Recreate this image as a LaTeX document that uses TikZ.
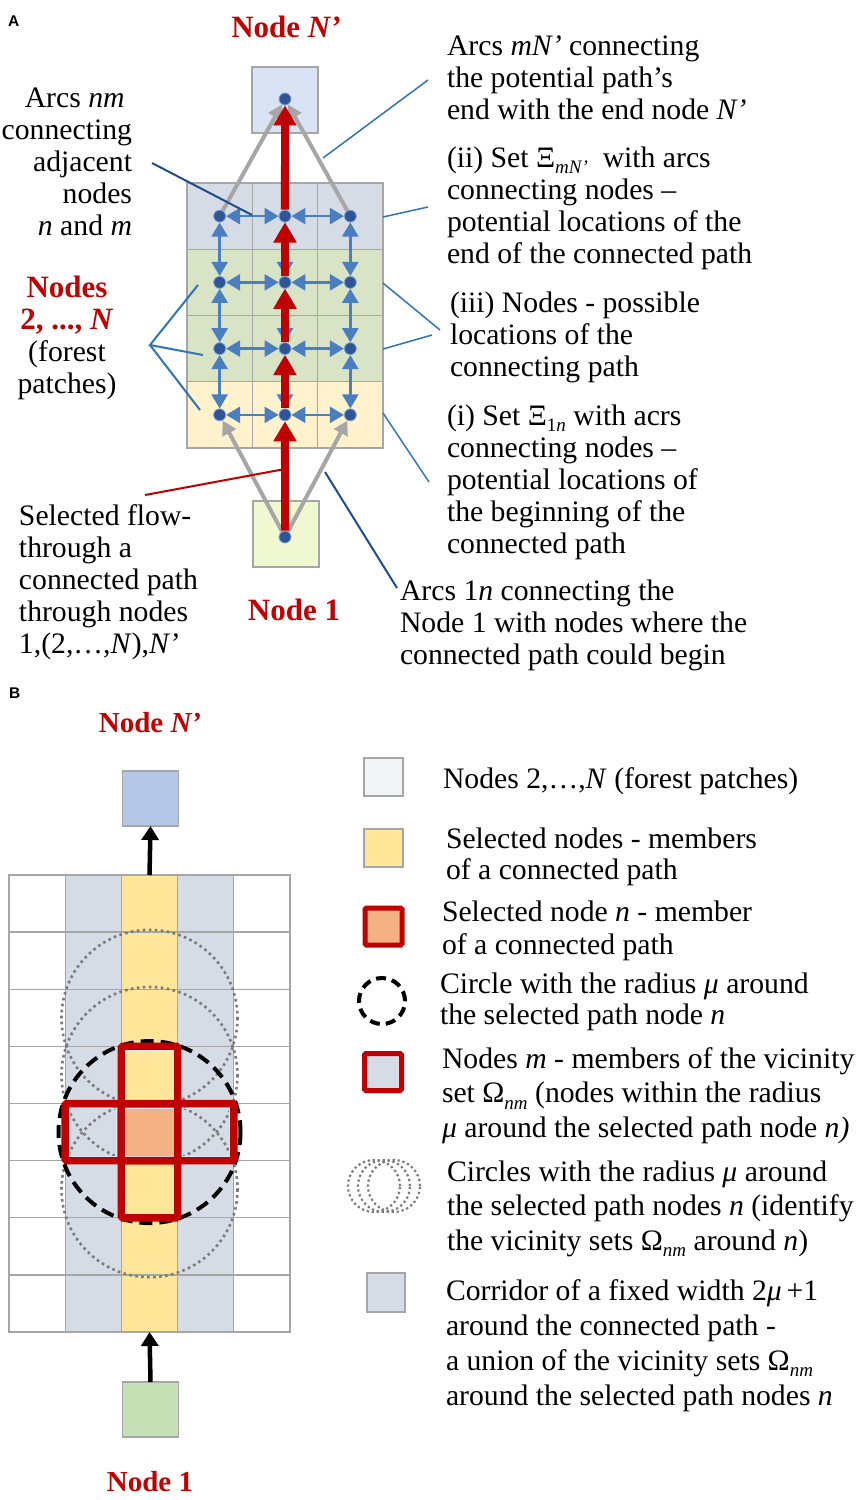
\documentclass[tikz,border=0pt]{standalone}
\usepackage{fontspec}
\setmainfont{Liberation Serif}
\newfontfamily\lsans{Liberation Sans}
\usetikzlibrary{arrows.meta}
\definecolor{topA}{HTML}{D6DCE5}
\definecolor{greenA}{HTML}{D9E4C6}
\definecolor{yellowA}{HTML}{FFF2CC}
\definecolor{startA}{HTML}{F0F8D2}
\definecolor{endA}{HTML}{DAE3F3}
\definecolor{gridG}{HTML}{A6A6A6}
\definecolor{blueA}{HTML}{4A7EBF}
\definecolor{dotB}{HTML}{2F5597}
\definecolor{redA}{HTML}{C00000}
\definecolor{grayA}{HTML}{A6A6A6}
\definecolor{callL}{HTML}{2E75B6}
\definecolor{callD}{HTML}{1F4E8C}
\definecolor{corr}{HTML}{D6DCE5}
\definecolor{yellowB}{HTML}{FFE699}
\definecolor{orangeB}{HTML}{F4B183}
\definecolor{endB}{HTML}{B4C7E7}
\definecolor{startB}{HTML}{C5E0B4}
\definecolor{paleB}{HTML}{F2F4F8}
\definecolor{dotG}{HTML}{7A7A7A}
\definecolor{innerB}{HTML}{DDEBF7}
\newcommand{\sbs}[1]{\raisebox{-0.22em}{\fontsize{19}{19}\selectfont #1}}
\tikzset{
 cellA/.style={draw=gridG, line width=1.2pt, minimum width=65.33pt, minimum height=66.25pt, inner sep=0pt, outer sep=0pt},
 cellB/.style={draw=gridG, line width=1.3pt, minimum width=56.2pt, minimum height=57.125pt, inner sep=0pt, outer sep=0pt},
 dotA/.style={circle, fill=dotB, draw=blueA!70, line width=0.8pt, minimum size=12pt, inner sep=0pt},
 barrow/.style={draw=blueA, line width=2.4pt, {Triangle[length=14pt,width=16pt]}-{Triangle[length=14pt,width=16pt]}},
 garrow/.style={draw=grayA, line width=4pt, -{Triangle[length=14pt,width=15pt]}},
 rarrow/.style={draw=redA, line width=8pt, -{Triangle[length=20pt,width=22pt]}},
 karrow/.style={draw=black, line width=4.5pt, -{Triangle[length=14pt,width=17pt]}},
 calloutL/.style={draw=callL, line width=1.5pt},
 calloutD/.style={draw=callD, line width=2pt},
 calloutR/.style={draw=redA, line width=2pt},
 txt/.style={inner sep=0pt, outer sep=0pt, align=left, anchor=north west, font=\fontsize{29.7}{32}\selectfont},
 ttl/.style={inner sep=0pt, anchor=base, text=redA, font=\fontsize{31}{32}\selectfont\bfseries},
 ttlB/.style={inner sep=0pt, anchor=base, text=redA, font=\fontsize{29}{32}\selectfont\bfseries},
 panel/.style={inner sep=0pt, anchor=base west, font=\lsans\fontsize{15.5}{16}\selectfont\bfseries},
 redcell/.style={draw=redA, line width=7.5pt, rounded corners=1.5pt},
 dotcirc/.style={draw=dotG, line width=2.6pt, dash pattern=on 2.6pt off 3.4pt},
 dashcirc/.style={draw=black, line width=4pt, dash pattern=on 13pt off 7pt},
}
\begin{document}
\begin{tikzpicture}[x=1pt,y=-1pt]
\useasboundingbox (0,0) rectangle (857,1500);
\fill[white] (0,0) rectangle (857,1500);

% ================= PANEL A =================
\node[panel] (labA) at (8,26) {A};
\foreach \r/\col in {1/topA,2/greenA,3/greenA,4/yellowA}{
  \foreach \c in {1,2,3}{
    \pgfmathsetmacro\xx{187+(\c-0.5)*65.33}
    \pgfmathsetmacro\yy{183+(\r-0.5)*66.25}
    \node[cellA, fill=\col] (a\r\c) at (\xx,\yy) {};
  }
}
\node[cellA, fill=endA, minimum width=66pt, minimum height=66pt] (np) at (285,100) {};
\node[cellA, fill=startA, minimum width=66pt, minimum height=66pt] (n1) at (286,534) {};
\foreach \r in {1,...,4}{\foreach \c in {1,2,3}{\node[dotA] (d\r\c) at (a\r\c.center) {};}}
\node[dotA] (dnp) at (285,99) {};
\node[dotA] (dn1) at (285,537) {};

\foreach \r in {1,...,4}{\draw[barrow] (d\r1) -- (d\r2); \draw[barrow] (d\r2) -- (d\r3);}
\foreach \c in {1,2,3}{\draw[barrow] (d1\c) -- (d2\c); \draw[barrow] (d2\c) -- (d3\c); \draw[barrow] (d3\c) -- (d4\c);}

\draw[garrow] (dn1) -- (d41);
\draw[garrow] (dn1) -- (d43);
\draw[garrow] (d11) -- (dnp);
\draw[garrow] (d13) -- (dnp);

\draw[rarrow] (dn1) -- (d42);
\draw[rarrow] (d42) -- (d32);
\draw[rarrow] (d32) -- (d22);
\draw[rarrow] (d22) -- (d12);
\draw[rarrow] (d12) -- (dnp);

% titles
\node[ttl] (tNp) at (286,37) {Node \textit{N’}};
\node[ttl] (tN1) at (294,620) {Node 1};

% left texts
\node[txt, align=right, anchor=north east] (tNm) at (132,84.6)
 {\strut Arcs \textit{nm}\hspace*{7.4pt}\\connecting\\adjacent\hspace*{7.4pt}\\nodes\\\textit{n} and \textit{m}};
\node[txt, align=center, anchor=north] (tNodes) at (67,274.6)
 {\strut{\color{redA}\fontsize{31}{32}\selectfont\bfseries Nodes}\\{\color{redA}\fontsize{31}{32}\selectfont\bfseries 2, ..., \textit{N}}\\(forest\\patches)};
\node[txt] (tSel) at (19,502.6)
 {\strut Selected flow-\\through a\\connected path\\through nodes\\1,(2,…,\textit{N}),\textit{N’}};

% right texts
\node[txt] (tMN) at (447,32.6)
 {\strut Arcs \textit{mN’} connecting\\the potential path’s\\end with the end node \textit{N’}};
\node[txt] (tII) at (447,144.6)
 {\strut(ii) Set Ξ\sbs{\textit{mN’}}\ \ with arcs\\connecting nodes –\\potential locations of the\\end of the connected path};
\node[txt] (tIII) at (450,289.6)
 {\strut(iii) Nodes - possible\\locations of the\\connecting path};
\node[txt] (tI) at (447,402.6)
 {\strut(i) Set Ξ\sbs{1\textit{n}} with acrs\\connecting nodes –\\potential locations of\\the beginning of the\\connected path};
\node[txt] (t1n) at (400,577.6)
 {\strut Arcs 1\textit{n} connecting the\\Node 1 with nodes where the\\connected path could begin};

% callouts
\coordinate (cNmA) at (152,163); \coordinate (cNmB) at (252,215);
\draw[calloutD] (cNmA) -- (cNmB);
\coordinate (cNo) at (150,345);
\coordinate (cNo1) at (198,285); \coordinate (cNo2) at (203,355); \coordinate (cNo3) at (200,410);
\draw[calloutL, line width=2pt] (cNo1) -- (cNo) -- (cNo2);
\draw[calloutL, line width=2pt] (cNo) -- (cNo3);
\coordinate (cMNa) at (428,80); \coordinate (cMNb) at (323,158);
\draw[calloutL] (cMNa) -- (cMNb);
\coordinate (cIIa) at (428,207); \coordinate (cIIb) at (383,217);
\draw[calloutL] (cIIa) -- (cIIb);
\coordinate (cIIIa) at (440,330); \coordinate (cIIIb) at (383,283);
\coordinate (cIIIc) at (432,335); \coordinate (cIIId) at (383,349);
\draw[calloutL] (cIIIa) -- (cIIIb);
\draw[calloutL] (cIIIc) -- (cIIId);
\coordinate (cIa) at (429,482); \coordinate (cIb) at (383,413);
\draw[calloutL] (cIa) -- (cIb);
\coordinate (c1na) at (397,588); \coordinate (c1nb) at (325,472);
\draw[calloutD] (c1na) -- (c1nb);
\coordinate (cSa) at (145,495); \coordinate (cSb) at (285,469);
\draw[calloutR] (cSa) -- (cSb);

% ================= PANEL B =================
\node[panel] (labB) at (9,698) {B};
\foreach \c/\col in {1/white,2/corr,3/yellowB,4/corr,5/white}{
  \foreach \r in {1,...,8}{
    \pgfmathsetmacro\xx{9+(\c-0.5)*56.2}
    \pgfmathsetmacro\yy{875+(\r-0.5)*57.125}
    \node[cellB, fill=\col] (b\r\c) at (\xx,\yy) {};
  }
}
\fill[orangeB] (b53.north west) rectangle (b53.south east);

\node[cellB, fill=endB, minimum width=56pt, minimum height=55pt] (bnp) at (150.5,798.5) {};
\node[cellB, fill=startB, minimum width=56pt, minimum height=55pt] (bn1) at (150.5,1409.5) {};
\draw[karrow] (b13.north) -- (bnp.south);
\draw[karrow] (bn1.north) -- (b83.south);

\draw[dotcirc] (b33.center) circle (88);
\draw[dotcirc] (b43.center) circle (88);
\draw[dotcirc] (b63.center) circle (88);

\draw[dashcirc] (b53.center) circle (91);
\foreach \n in {43,52,53,54,63}{
  \draw[redcell] (b\n.north west) rectangle (b\n.south east);
  \draw[innerB, line width=1pt] ([xshift=4.5pt,yshift=-4.5pt]b\n.north west) rectangle ([xshift=-4.5pt,yshift=4.5pt]b\n.south east);
}

\node[ttlB] (tBNp) at (150,732) {Node \textit{N’}};
\node[ttlB] (tBN1) at (150,1491) {Node 1};

% legend
\node[cellB, fill=paleB, minimum width=39pt, minimum height=38pt] (sw1) at (383.5,777) {};
\node[cellB, fill=yellowB, minimum width=39pt, minimum height=38pt] (sw2) at (383.5,848) {};
\node[fill=orangeB, draw=redA, line width=5pt, rounded corners=1.5pt, minimum width=37pt, minimum height=37pt, inner sep=0pt] (sw3) at (383.5,926.5) {};
\node[circle, draw=black, line width=4pt, dash pattern=on 10pt off 6pt, minimum size=46pt, inner sep=0pt] (sw4) at (382,1001) {};
\node[fill=corr, draw=redA, line width=5pt, rounded corners=1.5pt, minimum width=37pt, minimum height=37pt, inner sep=0pt] (sw5) at (383,1072) {};
\node[circle, draw=dotG, line width=2.2pt, dash pattern=on 2.2pt off 2.8pt, minimum size=52pt, inner sep=0pt] (sw6a) at (374,1186) {};
\node[circle, draw=dotG, line width=2.2pt, dash pattern=on 2.2pt off 2.8pt, minimum size=52pt, inner sep=0pt] (sw6b) at (384,1186) {};
\node[circle, draw=dotG, line width=2.2pt, dash pattern=on 2.2pt off 2.8pt, minimum size=52pt, inner sep=0pt] (sw6c) at (394,1186) {};
\node[cellB, fill=corr, minimum width=38pt, minimum height=39pt] (sw7) at (386,1292.5) {};

\node[txt] (L1) at (443,765.6) {\strut Nodes 2,…,\textit{N} (forest patches)};
\node[txt, font=\fontsize{29.7}{31}\selectfont] (L2) at (446,826.3)
 {\strut Selected nodes - members\\of a connected path};
\node[txt, font=\fontsize{29.7}{33}\selectfont] (L3) at (442,897.9)
 {\strut Selected node \textit{n} - member\\of a connected path};
\node[txt, font=\fontsize{29.7}{31}\selectfont] (L4) at (440,971.3)
 {\strut Circle with the radius \textit{μ} around\\the selected path node \textit{n}};
\node[txt, font=\fontsize{29.7}{34.5}\selectfont] (L5) at (442,1043.85)
 {\strut Nodes \textit{m} - members of the vicinity\\set Ω\sbs{\textit{nm}} (nodes within the radius\\\textit{μ} around the selected path node \textit{n)}};
\node[txt, font=\fontsize{29.7}{34.5}\selectfont] (L6) at (447,1156.85)
 {\strut Circles with the radius \textit{μ} around\\the selected path nodes \textit{n} (identify\\the vicinity sets Ω\sbs{\textit{nm}} around \textit{n})};
\node[txt, font=\fontsize{29.7}{35}\selectfont] (L7) at (446,1275.5)
 {\strut Corridor of a fixed width 2\textit{μ}\,+1\\around the connected path -\\a union of the vicinity sets Ω\sbs{\textit{nm}}\\around the selected path nodes \textit{n}};
\end{tikzpicture}
\end{document}
